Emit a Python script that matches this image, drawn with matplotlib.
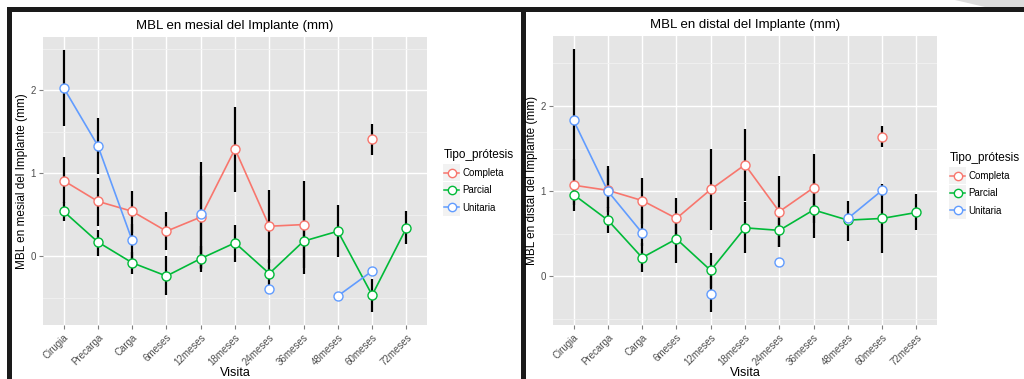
import numpy as np
import matplotlib
matplotlib.use("Agg")
import matplotlib.pyplot as plt
from matplotlib.lines import Line2D
from matplotlib.patches import Rectangle, Polygon

nan = np.nan

visitas = ['Cirugia', 'Precarga', 'Carga', '6meses', '12meses', '18meses',
           '24meses', '36meses', '48meses', '60meses', '72meses']
tipos = ['Completa', 'Parcial', 'Unitaria']

# MBL mesial (mm): media, limite inferior, limite superior
completa_m = [0.91, 0.66, 0.54, 0.30, 0.47, 1.29, 0.36, 0.38, nan, 1.41, nan]
completa_m_lo = [0.64, 0.36, 0.28, 0.07, -0.16, 0.77, -0.08, -0.14, nan, 1.22, nan]
completa_m_hi = [1.19, 0.94, 0.79, 0.53, 0.96, 1.80, 0.80, 0.90, nan, 1.59, nan]
parcial_m = [0.54, 0.17, -0.08, -0.24, -0.03, 0.16, -0.21, 0.18, 0.30, -0.47, 0.34]
parcial_m_lo = [0.42, 0.00, -0.22, -0.47, -0.19, -0.07, -0.39, -0.22, -0.01, -0.67, 0.15]
parcial_m_hi = [0.65, 0.32, 0.05, 0.00, 0.12, 0.37, -0.04, 0.56, 0.62, -0.28, 0.54]
unitaria_m = [2.03, 1.33, 0.19, nan, 0.51, nan, -0.40, nan, -0.48, -0.18, nan]
unitaria_m_lo = [1.57, 0.99, -0.06, nan, -0.14, nan, nan, nan, nan, nan, nan]
unitaria_m_hi = [2.48, 1.67, 0.39, nan, 1.13, nan, nan, nan, nan, nan, nan]

# MBL distal (mm)
completa_d = [1.07, 1.01, 0.89, 0.68, 1.02, 1.31, 0.76, 1.04, nan, 1.64, nan]
completa_d_lo = [0.84, 0.76, 0.62, 0.45, 0.55, 0.88, 0.35, 0.63, nan, 1.52, nan]
completa_d_hi = [1.38, 1.26, 1.15, 0.92, 1.49, 1.73, 1.18, 1.43, nan, 1.76, nan]
parcial_d = [0.96, 0.66, 0.22, 0.44, 0.07, 0.57, 0.54, 0.78, 0.66, 0.68, 0.75]
parcial_d_lo = [0.77, 0.51, 0.05, 0.16, -0.14, 0.28, 0.35, 0.45, 0.42, 0.27, 0.55]
parcial_d_hi = [1.05, 0.82, 0.39, 0.63, 0.28, 0.87, 0.72, 1.13, 0.88, 0.98, 0.97]
unitaria_d = [1.83, 1.00, 0.51, nan, -0.21, nan, 0.17, nan, 0.68, 1.01, nan]
unitaria_d_lo = [0.98, 0.80, 0.36, nan, -0.42, nan, nan, nan, nan, 0.94, nan]
unitaria_d_hi = [2.67, 1.30, 0.79, nan, 0.00, nan, nan, nan, nan, 1.08, nan]

colores = ['#F8766D', '#00BA38', '#619CFF']

W, H = 1024, 379
plt.rcParams['font.family'] = ['Liberation Sans', 'DejaVu Sans']
fig = plt.figure(figsize=(W / 100, H / 100), dpi=100)
fig.patch.set_facecolor('white')


def px_axes(x0, y0, x1, y1):
    return fig.add_axes([x0 / W, 1 - y1 / H, (x1 - x0) / W, (y1 - y0) / H])


def draw_panel(ax, title, ylabel, series, ylim, legend_xy):
    x = np.arange(len(visitas))
    ax.set_facecolor('#E5E5E5')
    for s in ax.spines.values():
        s.set_visible(False)
    ax.set_xlim(-0.6, len(visitas) - 0.4)
    ax.set_ylim(*ylim)
    ax.set_yticks([0, 1, 2])
    ax.set_yticks(np.arange(-0.5, 3.0, 1.0), minor=True)
    ax.set_xticks(x)
    ax.set_xticklabels(visitas, rotation=45, ha='right', rotation_mode='anchor')
    ax.grid(True, which='major', color='white', lw=1.0)
    ax.grid(True, which='minor', axis='y', color='#F2F2F2', lw=0.6)
    ax.set_axisbelow(True)
    ax.tick_params(which='major', length=3, color='#7F7F7F', labelcolor='#4D4D4D',
                   labelsize=7, pad=2)
    ax.tick_params(which='minor', length=0)

    for (vals, lo, hi), color in zip(series, colores):
        vals = np.array(vals, dtype=float)
        ax.plot(x, vals, color=color, lw=1.2, zorder=2)
    for (vals, lo, hi), color in zip(series, colores):
        lo = np.array(lo, dtype=float)
        hi = np.array(hi, dtype=float)
        ok = ~np.isnan(lo)
        ax.vlines(x[ok], lo[ok], hi[ok], color='black', lw=1.6, zorder=3)
    for (vals, lo, hi), color in zip(series, colores):
        ax.plot(x, vals, 'o', ms=6.5, mfc='white', mec=color, mew=1.0, zorder=4)

    ax.set_title(title, fontsize=9.5, pad=6)
    ax.set_ylabel(ylabel, fontsize=8.5, labelpad=2)
    ax.set_xlabel('Visita', fontsize=9, labelpad=0)

    handles = [Line2D([], [], color=c, lw=1.1, marker='o', ms=6, mfc='white', mec=c, mew=1.0)
               for c in colores]
    leg = fig.legend(handles, tipos, title='Tipo_prótesis', loc='upper left',
                     bbox_to_anchor=(legend_xy[0] / W, 1 - legend_xy[1] / H),
                     frameon=False, fontsize=7, title_fontsize=8.5, handlelength=1.6,
                     handletextpad=0.3, labelspacing=0.75, borderaxespad=0)
    leg._legend_box.align = 'left'
    leg.set_zorder(2)
    return leg


def key_backgrounds(leg):
    # fondo gris de las claves, como en ggplot
    renderer = fig.canvas.get_renderer()
    for h in leg.legend_handles:
        bb = h.get_window_extent(renderer)
        cx, cy = (bb.x0 + bb.x1) / 2, (bb.y0 + bb.y1) / 2
        fig.add_artist(Rectangle(((cx - 8.5) / W, (cy - 8.5) / H), 17 / W, 17 / H,
                                 transform=fig.transFigure, color='#F2F2F2', lw=0, zorder=1))


ax1 = px_axes(43, 37, 427, 325)
leg1 = draw_panel(ax1, 'MBL en mesial del Implante (mm)', 'MBL en mesial del Implante (mm)',
                  [(completa_m, completa_m_lo, completa_m_hi),
                   (parcial_m, parcial_m_lo, parcial_m_hi),
                   (unitaria_m, unitaria_m_lo, unitaria_m_hi)],
                  (-0.83, 2.64), (440, 145))

ax2 = px_axes(553, 36, 937, 325)
leg2 = draw_panel(ax2, 'MBL en distal del Implante (mm)', 'MBL en distal del Implante (mm)',
                  [(completa_d, completa_d_lo, completa_d_hi),
                   (parcial_d, parcial_d_lo, parcial_d_hi),
                   (unitaria_d, unitaria_d_lo, unitaria_d_hi)],
                  (-0.57, 2.82), (946, 148))

fig.canvas.draw()
key_backgrounds(leg1)
key_backgrounds(leg2)

# marco negro de la pagina
frame = '#1A1A1A'
for (x0, y0, w, h) in [(7, 7, 1017, 5), (7, 7, 5, 372), (521, 7, 5, 372)]:
    fig.add_artist(Rectangle((x0 / W, 1 - (y0 + h) / H), w / W, h / H,
                             transform=fig.transFigure, color=frame, lw=0, zorder=0))
fig.add_artist(Polygon([(955 / W, 1.0), (1.0, 1.0), (1.0, 1 - 7 / H), (985 / W, 1 - 7 / H)],
                       closed=True, transform=fig.transFigure, color='#DCDCDC', lw=0))

fig.savefig('out.png', dpi=100)
